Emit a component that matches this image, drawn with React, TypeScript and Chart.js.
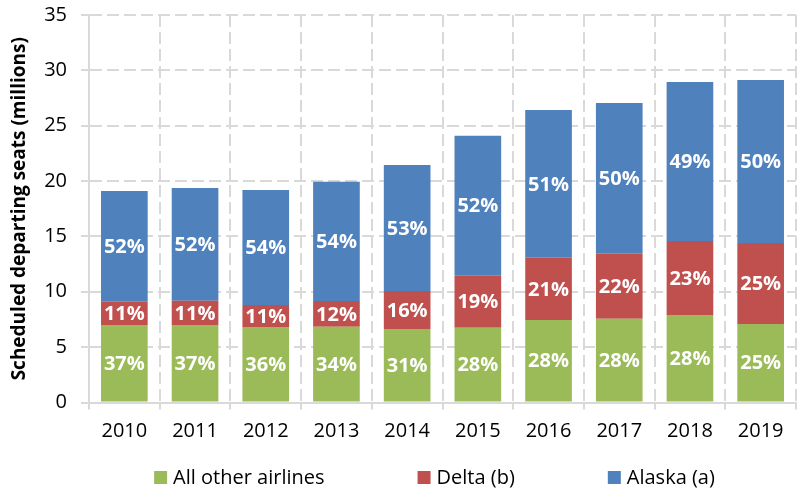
import React, { useEffect, useRef } from "react";
import { Chart, registerables } from "chart.js";

Chart.register(...registerables);

const years = ["2010", "2011", "2012", "2013", "2014", "2015", "2016", "2017", "2018", "2019"];
const seriesNames = ["All other airlines", "Delta (b)", "Alaska (a)"];
const seriesColors = ["#9BBB59", "#C0504D", "#4F81BD"];

// Scheduled departing seats, millions
const otherSeats = [7.0, 7.0, 6.82, 6.85, 6.64, 6.76, 7.45, 7.57, 7.9, 7.09];
const deltaSeats = [2.1, 2.2, 1.98, 2.32, 3.43, 4.69, 5.63, 5.87, 6.69, 7.32];
const alaskaSeats = [10.0, 10.18, 10.4, 10.78, 11.38, 12.65, 13.34, 13.61, 14.36, 14.72];

// Share labels as printed on the bars
const otherPct = ["37%", "37%", "36%", "34%", "31%", "28%", "28%", "28%", "28%", "25%"];
const deltaPct = ["11%", "11%", "11%", "12%", "16%", "19%", "21%", "22%", "23%", "25%"];
const alaskaPct = ["52%", "52%", "54%", "54%", "53%", "52%", "51%", "50%", "49%", "50%"];

const yMin = 0;
const yMax = 35;
const yStep = 5;
const yTitle = "Scheduled departing seats (millions)";

const FONT = "'Open Sans', sans-serif";
const GRID = "#d9d9d9";

const segmentLabels = [otherPct, deltaPct, alaskaPct];

const labelPlugin = {
  id: "segmentLabels",
  afterDatasetsDraw(chart: any) {
    const ctx = chart.ctx;
    ctx.save();
    ctx.font = `bold 20px ${FONT}`;
    ctx.fillStyle = "#ffffff";
    ctx.textAlign = "center";
    ctx.textBaseline = "middle";
    chart.data.datasets.forEach((_ds: any, i: number) => {
      const meta = chart.getDatasetMeta(i);
      meta.data.forEach((bar: any, j: number) => {
        const p = bar.getProps(["x", "y", "base"], true);
        ctx.fillText(segmentLabels[i][j], p.x, (p.y + p.base) / 2 + 1);
      });
    });
    ctx.restore();
  },
};

const legendPlugin = {
  id: "customLegend",
  afterDraw(chart: any) {
    const ctx = chart.ctx;
    const box = 13;
    const gapBoxText = 6;
    const gapItems = 93;
    ctx.save();
    ctx.font = `20px ${FONT}`;
    const widths = chart.data.datasets.map((ds: any) => box + gapBoxText + ctx.measureText(ds.label).width);
    const total = widths.reduce((a: number, b: number) => a + b, 0) + gapItems * (widths.length - 1);
    const ca = chart.chartArea;
    const cx = (ca.left + ca.right) / 2 - 8;
    const cy = 477.5;
    let x = cx - total / 2;
    chart.data.datasets.forEach((ds: any, i: number) => {
      ctx.fillStyle = ds.backgroundColor;
      ctx.fillRect(x, cy - box / 2, box, box);
      ctx.fillStyle = "#000000";
      ctx.textAlign = "left";
      ctx.textBaseline = "middle";
      ctx.fillText(ds.label, x + box + gapBoxText, cy + 1);
      x += widths[i] + gapItems;
    });
    ctx.restore();
  },
};

export default function App() {
  const canvasRef = useRef<HTMLCanvasElement | null>(null);

  useEffect(() => {
    if (!canvasRef.current) return;
    const seriesData = [otherSeats, deltaSeats, alaskaSeats];
    const chart = new Chart(canvasRef.current, {
      type: "bar",
      data: {
        labels: years,
        datasets: seriesNames.map((name, i) => ({
          label: name,
          data: seriesData[i],
          backgroundColor: seriesColors[i],
          borderWidth: 0,
          barPercentage: 0.66,
          categoryPercentage: 1.0,
        })),
      },
      options: {
        responsive: false,
        animation: false,
        layout: { padding: { left: 0, right: 2, top: 0, bottom: 49.5 } },
        plugins: {
          legend: { display: false },
          tooltip: { enabled: false },
        },
        scales: {
          x: {
            stacked: true,
            grid: {
              color: GRID,
              lineWidth: 2,
              offset: true,
              drawTicks: true,
              tickLength: 7,
              tickColor: GRID,
              tickWidth: 2,
            },
            border: { display: true, color: GRID, width: 2, dash: [12, 5] },
            ticks: { color: "#000000", font: { family: FONT, size: 20 }, padding: 10 },
            afterFit: (s: any) => {
              s.height = 40;
            },
          },
          y: {
            stacked: true,
            min: yMin,
            max: yMax,
            ticks: { stepSize: yStep, color: "#000000", font: { family: FONT, size: 20 }, padding: 14 },
            grid: {
              color: GRID,
              lineWidth: 2,
              drawTicks: true,
              tickLength: 8,
              tickColor: GRID,
              tickWidth: 2,
            },
            border: { display: true, color: GRID, width: 2, dash: [12, 5] },
            title: {
              display: true,
              text: yTitle,
              color: "#000000",
              font: { family: FONT, size: 19, weight: "bold" },
              padding: { top: 8, bottom: 0 },
            },
            afterFit: (s: any) => {
              s.width = 89;
              s.paddingTop = 15;
              s.paddingBottom = 12;
            },
          },
        },
      },
      plugins: [labelPlugin, legendPlugin],
    } as any);
    return () => chart.destroy();
  }, []);

  return (
    <div style={{ position: "absolute", left: 0, top: 0, width: 798, height: 492, background: "#fff" }}>
      <canvas ref={canvasRef} width={798} height={492} style={{ width: 798, height: 492 }} />
    </div>
  );
}
